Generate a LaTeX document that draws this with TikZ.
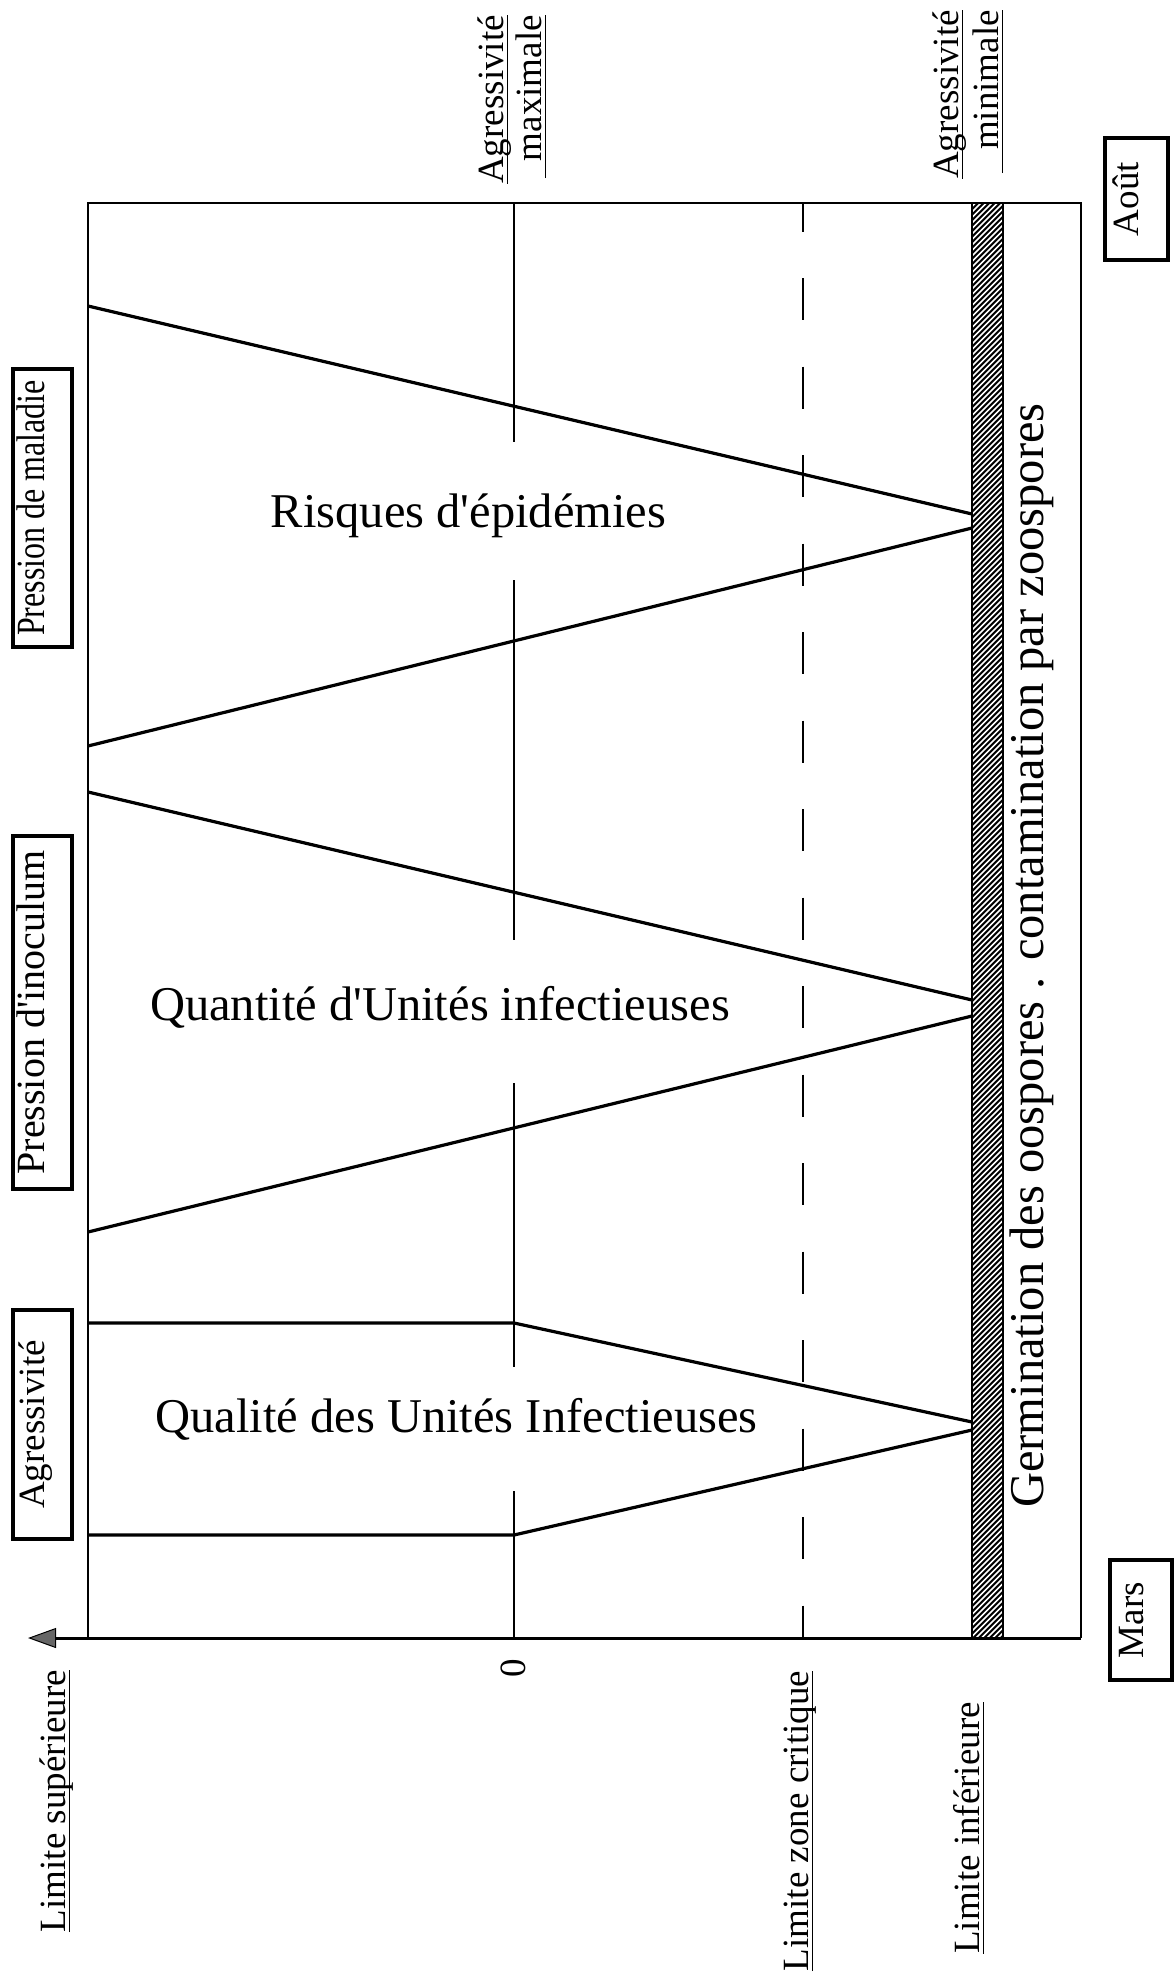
\documentclass[tikz,border=0pt]{standalone}
\usepackage{graphicx}
\usepackage{fontspec}
\setmainfont{Liberation Serif}
\usetikzlibrary{arrows.meta}
\newcommand{\ulbox}[1]{\setbox0=\hbox{#1}\rlap{\rule[-5pt]{\wd0}{1.5pt}}\box0}

\begin{document}
\begin{tikzpicture}[x=1pt, y=-1pt,
  frame/.style={line width=2pt},
  curve/.style={line width=3.2pt, line join=round},
  zeroline/.style={line width=1.7pt},
  critline/.style={line width=2.3pt, dash pattern=on 42pt off 46.5pt, dash phase=13.5pt},
  bigtext/.style={font=\fontsize{48.5}{58}\selectfont, inner sep=0pt},
  lbl/.style={rotate=90, font=\fontsize{37}{44}\selectfont, inner sep=0pt},
  tagbox/.style={rotate=90, draw=black, line width=3.4pt, font=\fontsize{37}{44}\selectfont,
    inner sep=0pt, text height=0.7em, text depth=0.22em}]
  \useasboundingbox (0,0) rectangle (1175,1976);

  % frame and time axis
  \draw[frame] (88,1638) -- (88,203) -- (1081,203) -- (1081,1638);
  \draw[line width=3pt, -{Triangle[length=28pt, width=20pt, fill=black!60, line width=1pt]}] (1081,1638) -- (28,1638);
  \foreach \a/\b in {203/442, 580/940, 1083/1367, 1491/1638}
    \draw[zeroline] (514,\a) -- (514,\b);
  \draw[critline] (803,203) -- (803,1638);

  % hatched bar
  \fill (972,203) rectangle (1003,1638);
  \begin{scope}
    \clip (972,203) rectangle (1003,1638);
    \foreach \k in {0,...,270}
      \draw[white, line width=1.6pt] (970,203+5.5*\k) -- (1005,168+5.5*\k);
  \end{scope}
  \draw[line width=1.4pt] (972,203) rectangle (1003,1638);

  \draw[curve] (88,306) -- (972,514);
  \draw[curve] (88,746) -- (972,528);
  \draw[curve] (88,792) -- (972,1000);
  \draw[curve] (88,1232) -- (972,1016);
  \draw[curve] (88,1323) -- (514,1323) -- (972,1422);
  \draw[curve] (88,1535) -- (514,1535) -- (972,1430);

  \node[bigtext, anchor=base] (risk) at (468.5,527) {Risques d\textquotesingle épidémies};
  \node[bigtext, anchor=base] (qty) at (440,1020) {Quantité d\textquotesingle Unités infectieuses};
  \node[bigtext, anchor=base] (qual) at (456.5,1432) {Qualité des Unités Infectieuses};
  \node[bigtext, rotate=90, anchor=base west] (germ) at (1043,1508) {Germination des oospores . contamination par zoospores};

  \node[lbl, anchor=base] (sup) at (65,1801) {\ulbox{Limite supérieure}};
  \node[lbl, anchor=base] (zero) at (525,1668) {0};
  \node[lbl, anchor=base] (crit) at (808,1821) {\ulbox{Limite zone critique}};
  \node[lbl, anchor=base] (inf) at (979,1828) {\ulbox{Limite inférieure}};
  \node[lbl, anchor=base east] (amax) at (503,15) {\ulbox{Agressivité}};
  \node[lbl, anchor=base east] (amax2) at (541,15) {\ulbox{\makebox[4.4em][r]{maximale}}};
  \node[lbl, anchor=base east] (amin) at (958,10) {\ulbox{Agressivité}};
  \node[lbl, anchor=base east] (amin2) at (998,10) {\ulbox{\makebox[4.4em][r]{minimale}}};

  \node[tagbox, minimum width=229pt, minimum height=59pt] (agr) at (42.5,1424.5) {Agressivité};
  \node[tagbox, minimum width=278pt, minimum height=59pt, font=\fontsize{40}{48}\selectfont] (pmal) at (42.5,508) {\scalebox{0.8}[1]{Pression de maladie}};
  \node[tagbox, minimum width=353pt, minimum height=59pt, font=\fontsize{40}{48}\selectfont] (pino) at (42.5,1012.5) {Pression d\textquotesingle inoculum};
  \node[tagbox, minimum width=120pt, minimum height=62pt] (mars) at (1141,1620) {Mars};
  \node[tagbox, minimum width=122pt, minimum height=63pt] (aout) at (1136.5,199) {Août};
\end{tikzpicture}
\end{document}
